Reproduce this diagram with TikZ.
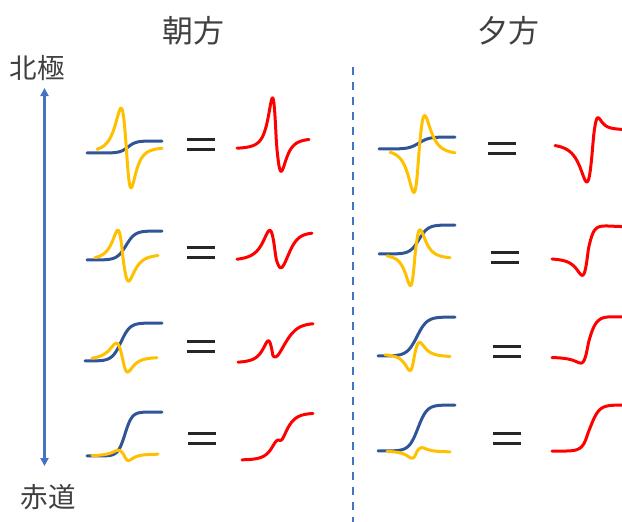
\documentclass[tikz,border=0pt]{standalone}
\usepackage{fontspec}
\newfontfamily\jp{Noto Sans CJK JP}
\usetikzlibrary{arrows.meta}
\definecolor{cblue}{HTML}{2F5597}
\definecolor{cyel}{HTML}{FFC000}
\definecolor{cred}{HTML}{FF0000}
\definecolor{ablue}{HTML}{4472C4}
\definecolor{txt}{HTML}{404040}
% curve: style, xa, xb, y0, h, c, s, dc, a1 | w1, a2, w2
\def\curve#1#2#3#4#5#6#7#8#9{\def\cXa{#2}\def\cXb{#3}\def\cY{#4}\def\cH{#5}\def\cC{#6}\def\cW{#7}\def\cD{#8}\def\cA{#9}\curveB{#1}}
\def\curveB#1#2#3#4{\draw[#1] plot[domain=\cXa:\cXb, samples=100, variable=\xx]
  (\xx, {\cY - \cH*sig((\xx-\cC)/\cW) - ifthenelse(\xx<\cD, \cA*lor((\xx-\cD)/#2), #3*lor((\xx-\cD)/#4))});}
\def\eqsign#1#2{\draw[eqbar] ({#1-14},{#2-5}) -- ++(28,0) ({#1-14},{#2+5}) -- ++(28,0);}
\begin{document}
\begin{tikzpicture}[x=1pt,y=-1pt,
  declare function={sig(\u)=1/(1+exp(0-max(-9,min(9,\u))));
    lorc(\v)=(0-(\v))/((1+(\v)*(\v))^2)/0.3248;
    lor(\u)=lorc(max(-8,min(8,\u)));},
  bl/.style={cblue,line width=3pt,line cap=round,line join=round},
  ye/.style={cyel,line width=3pt,line cap=round,line join=round},
  rd/.style={cred,line width=3pt,line cap=round,line join=round},
  eqbar/.style={black!85,line width=3pt},
  lbl/.style={font=\jp\fontsize{27.5}{31}\selectfont,text=txt,inner sep=0pt},
  ttl/.style={font=\jp\fontsize{31}{34}\selectfont,text=txt,inner sep=0pt},
  axisarrow/.style={ablue,line width=2.5pt,{Triangle[length=8pt,width=8pt]}-{Triangle[length=8pt,width=8pt]}},
  divider/.style={ablue,line width=2pt,dash pattern=on 8pt off 7pt}]
\useasboundingbox (0,0) rectangle (622,522);
\clip (0,0) rectangle (622,522);
% labels
\node[ttl] (morning) at (193,31) {朝方};
\node[ttl] (evening) at (508,31) {夕方};
\node[lbl] (north) at (37,68) {北極};
\node[lbl] (equator) at (48,497) {赤道};
% axis arrow and divider
\coordinate (atop) at (44.5,88);
\coordinate (abot) at (44.5,466);
\draw[axisarrow] (atop) -- (abot);
\coordinate (dtop) at (352.5,67);
\coordinate (dbot) at (352.5,522);
\draw[divider] (dtop) -- (dbot);
% ---------- left column (morning) ----------
% row 1
\curve{bl}{87}{162}{153}{12}{128}{4}{126.5}{0}{1}{0}{1}
\curve{ye}{97}{162}{153}{6}{128}{4}{126.5}{44}{9.5}{39}{8}
\curve{rd}{237}{309}{149}{11}{278}{4}{276.5}{49}{7}{30}{8.5}
\eqsign{201}{144}
% row 2
\curve{bl}{87}{162}{260}{29}{126}{4.5}{123}{0}{1}{0}{1}
\curve{ye}{95}{158}{260}{6}{126}{4.5}{123}{29}{9}{25}{10}
\curve{rd}{237}{312}{261}{29}{288}{5}{276}{30}{11}{13}{11}
\eqsign{201}{252}
% row 3
\curve{bl}{85}{162}{361}{38}{121}{4.5}{122}{0}{1}{0}{1}
\curve{ye}{92}{157}{360}{3}{121}{4.5}{122.5}{16}{11}{14.5}{9}
\curve{rd}{238}{313}{363}{40}{284}{7}{273}{18.4}{8.7}{4}{8.7}
\eqsign{201}{346}
% row 4
\curve{bl}{87}{162}{456}{44}{125}{3.5}{124}{0}{1}{0}{1}
\curve{ye}{92}{158}{456}{2}{125}{3.5}{124}{5.5}{10}{6}{8}
\curve{rd}{242}{313}{460}{47}{281}{6.5}{279}{4}{7}{5}{7}
\eqsign{202}{438}
% ---------- right column (evening) ----------
% row 1
\curve{bl}{379}{455}{149}{12}{419}{5}{419}{0}{1}{0}{1}
\curve{ye}{390}{455}{149}{-6}{419}{5}{419}{-42}{9}{-38}{10}
\curve{rd}{555}{630}{143}{13}{594}{5}{593.5}{-41.6}{11}{-16.5}{7}
\eqsign{502}{148.5}
% row 2
\curve{bl}{379}{455}{254}{29}{419}{4.5}{419}{0}{1}{0}{1}
\curve{ye}{387}{450}{254}{-5}{419}{4.5}{415}{-31}{8}{-27}{9}
\curve{rd}{552}{630}{258}{31}{592}{4.5}{588.5}{-20.8}{9.5}{-8}{9.5}
\eqsign{505}{257}
% row 3
\curve{bl}{378}{455}{356}{39}{417}{5}{417}{0}{1}{0}{1}
\curve{ye}{385}{450}{354}{-3}{417}{5}{414.5}{-16}{8}{-13.5}{9}
\curve{rd}{552}{630}{357}{40}{591}{4.5}{588.5}{-10.8}{9.5}{-4}{9.5}
\eqsign{507}{351}
% row 4
\curve{bl}{378}{455}{451}{46}{418}{4.5}{418}{0}{1}{0}{1}
\curve{ye}{387}{450}{451}{-1}{418}{4.5}{417}{-7}{8.7}{-4}{8.7}
\curve{rd}{552}{630}{451}{46}{590}{4.5}{588}{-2}{8}{0}{8}
\eqsign{507}{438}
\end{tikzpicture}
\end{document}
